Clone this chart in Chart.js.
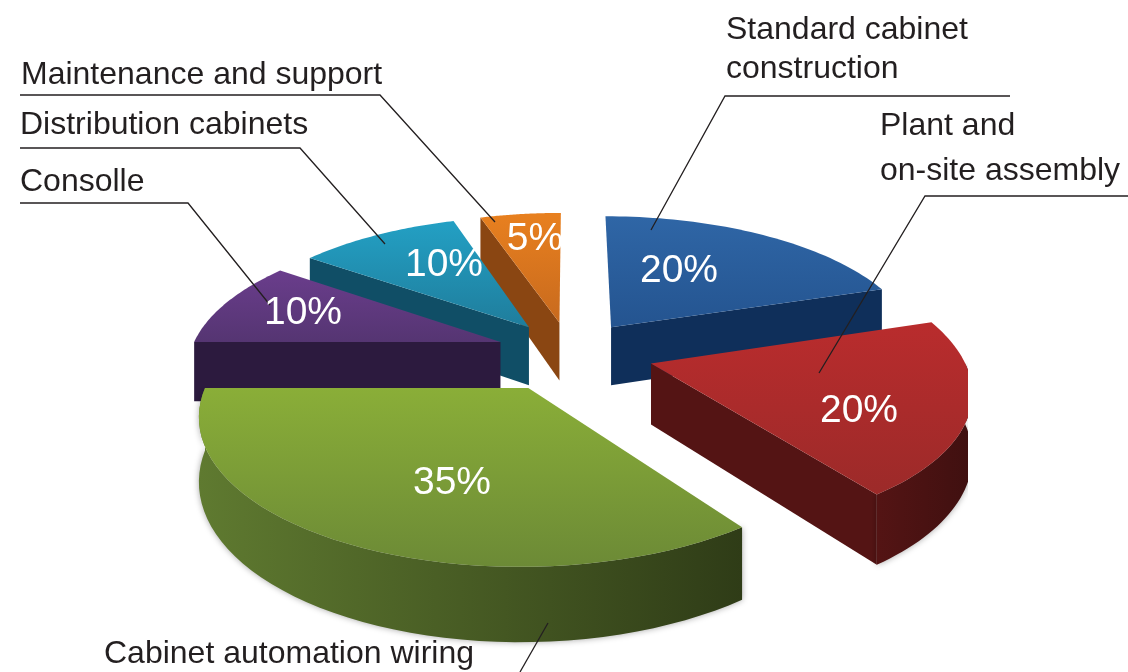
<!DOCTYPE html>
<html lang="en">
<head>
    <meta charset="UTF-8">
    <title>Cabinet work breakdown</title>
    <script src="https://cdn.jsdelivr.net/npm/chart.js"></script>
    <style>
        body {
            margin: 0;
            background-color: #fff;
        }
        canvas {
            display: block;
        }
    </style>
</head>
<body>

<canvas id="pieChart" width="1128" height="672"></canvas>

<script>
    // Data, clockwise from the top of the pie
    const categories = ['Standard cabinet construction', 'Plant and on-site assembly', 'Cabinet automation wiring', 'Consolle', 'Distribution cabinets', 'Maintenance and support'];
    const shares = [20, 20, 35, 10, 10, 5];

    // How far each slice is pulled out of the pie
    const explode = [72, 84, 88, 74, 72, 70];

    // Slice colours: top surface (back, front), wall
    const topBack = ['#2f66a6', '#b92c2d', '#8aae38', '#6a3d8c', '#23a0c4', '#e8801f'];
    const topFront = ['#245490', '#9c2a29', '#6c8a36', '#553572', '#1f7d9c', '#c86a1e'];
    const wallLight = ['#0f2f5a', '#541414', '#5f7a30', '#2c1a3e', '#104e66', '#8a4612'];
    const wallDark = ['#0f2f5a', '#3f1010', '#2f3c17', '#2c1a3e', '#104e66', '#6f3a12'];

    // Text
    const percentFont = '39px "Liberation Sans", Arial, sans-serif';
    const labelFont = '32px "Liberation Sans", Arial, sans-serif';
    const percentAt = [[679, 271], [859, 411], [452, 483], [303, 313], [444, 265], [535, 239]];
    const labelText = [
        ['Standard cabinet', 726, 39], ['construction', 726, 78],
        ['Plant and', 880, 135], ['on-site assembly', 880, 180],
        ['Cabinet automation wiring', 104, 663],
        ['Consolle', 20, 191], ['Distribution cabinets', 20, 134], ['Maintenance and support', 21, 84]
    ];
    // Leader lines as polylines
    const leaders = [
        [[1010, 96], [725, 96], [651, 230]],
        [[1128, 196], [925, 196], [819, 373]],
        [[548, 623], [520, 672]],
        [[20, 203], [188, 203], [270, 305]],
        [[20, 148], [300, 148], [385, 244]],
        [[20, 95], [380, 95], [495, 222]]
    ];

    // Fake 3D view
    const tilt = 0.44;
    const viewDist = 1900;
    const depth = 60;
    const clipRight = 968;

    function project(cx, cy, u, v, z) {
        const s = viewDist / (viewDist - v);
        return { x: cx + u * s, y: cy + (v * tilt + z) * s };
    }

    function tracePath(ctx, pts) {
        ctx.beginPath();
        pts.forEach((p, i) => i ? ctx.lineTo(p.x, p.y) : ctx.moveTo(p.x, p.y));
        ctx.closePath();
    }

    function drawSlice(ctx, arc, i) {
        const { x: cx, y: cy, startAngle, endAngle, outerRadius } = arc.getProps(['x', 'y', 'startAngle', 'endAngle', 'outerRadius'], true);
        const mid = (startAngle + endAngle) / 2;
        const off = arc.options.offset;
        const u0 = off * Math.cos(mid);
        const v0 = off * Math.sin(mid);
        const steps = 48;
        const rim = [];
        for (let n = 0; n <= steps; n++) {
            const a = startAngle + (endAngle - startAngle) * n / steps;
            rim.push({ a, u: u0 + outerRadius * Math.cos(a), v: v0 + outerRadius * Math.sin(a) });
        }
        const apexTop = project(cx, cy, u0, v0, 0);
        const apexLow = project(cx, cy, u0, v0, depth);
        const rimTop = rim.map(p => project(cx, cy, p.u, p.v, 0));
        const rimLow = rim.map(p => project(cx, cy, p.u, p.v, depth));

        // radial walls facing the viewer
        ctx.fillStyle = wallLight[i];
        if (-Math.cos(startAngle) > 0.01) {
            tracePath(ctx, [apexTop, rimTop[0], rimLow[0], apexLow]);
            ctx.fill();
        }
        if (Math.cos(endAngle) > 0.01) {
            tracePath(ctx, [apexTop, rimTop[steps], rimLow[steps], apexLow]);
            ctx.fill();
        }

        // outer wall as one shape, lighter to the left like the picture
        const seen = rim.map((p, n) => n).filter(n => Math.sin(rim[n].a) > -0.01);
        if (seen.length > 1) {
            const xs = rimTop.map(p => p.x);
            const wallFill = ctx.createLinearGradient(Math.min(...xs), 0, Math.max(...xs), 0);
            wallFill.addColorStop(0, wallLight[i]);
            wallFill.addColorStop(1, wallDark[i]);
            ctx.save();
            ctx.shadowColor = 'rgba(0, 0, 0, 0.35)';
            ctx.shadowBlur = 6;
            ctx.fillStyle = wallFill;
            tracePath(ctx, [...seen.map(n => rimTop[n]), ...seen.slice().reverse().map(n => rimLow[n])]);
            ctx.fill();
            ctx.restore();
        }

        // top surface
        const ys = rimTop.map(p => p.y).concat(apexTop.y);
        const topFill = ctx.createLinearGradient(0, Math.min(...ys), 0, Math.max(...ys));
        topFill.addColorStop(0, topBack[i]);
        topFill.addColorStop(1, topFront[i]);
        ctx.fillStyle = topFill;
        tracePath(ctx, [apexTop, ...rimTop]);
        ctx.fill();
    }

    // Chart.js works out the slice angles, this plugin paints them tilted
    const tiltedPie = {
        id: 'tiltedPie',
        beforeDatasetDraw() {
            return false;
        },
        afterDraw(chart) {
            const ctx = chart.ctx;
            const arcs = chart.getDatasetMeta(0).data;
            const order = arcs.map((arc, i) => i).sort((a, b) => {
                const mid = n => (arcs[n].startAngle + arcs[n].endAngle) / 2;
                return Math.sin(mid(a)) - Math.sin(mid(b));
            });

            ctx.save();
            ctx.beginPath();
            ctx.rect(0, 0, clipRight, chart.height);
            ctx.clip();
            order.forEach(i => drawSlice(ctx, arcs[i], i));
            ctx.restore();

            ctx.save();
            ctx.strokeStyle = '#231f20';
            ctx.lineWidth = 1.3;
            leaders.forEach(line => {
                ctx.beginPath();
                line.forEach((p, n) => n ? ctx.lineTo(p[0], p[1]) : ctx.moveTo(p[0], p[1]));
                ctx.stroke();
            });

            ctx.fillStyle = '#231f20';
            ctx.font = labelFont;
            ctx.textAlign = 'left';
            ctx.textBaseline = 'alphabetic';
            labelText.forEach(t => ctx.fillText(t[0], t[1], t[2]));

            ctx.fillStyle = '#fff';
            ctx.font = percentFont;
            ctx.textAlign = 'center';
            ctx.textBaseline = 'middle';
            shares.forEach((v, i) => ctx.fillText(v + '%', percentAt[i][0], percentAt[i][1]));
            ctx.restore();
        }
    };

    new Chart(document.getElementById('pieChart'), {
        type: 'pie',
        data: {
            labels: categories,
            datasets: [{
                data: shares,
                backgroundColor: topBack,
                offset: explode,
                borderWidth: 0
            }]
        },
        options: {
            responsive: false,
            animation: false,
            radius: 310,
            layout: { padding: { left: 12, top: 32 } },
            plugins: {
                legend: { display: false },
                tooltip: { enabled: false }
            }
        },
        plugins: [tiltedPie]
    });
</script>

</body>
</html>
